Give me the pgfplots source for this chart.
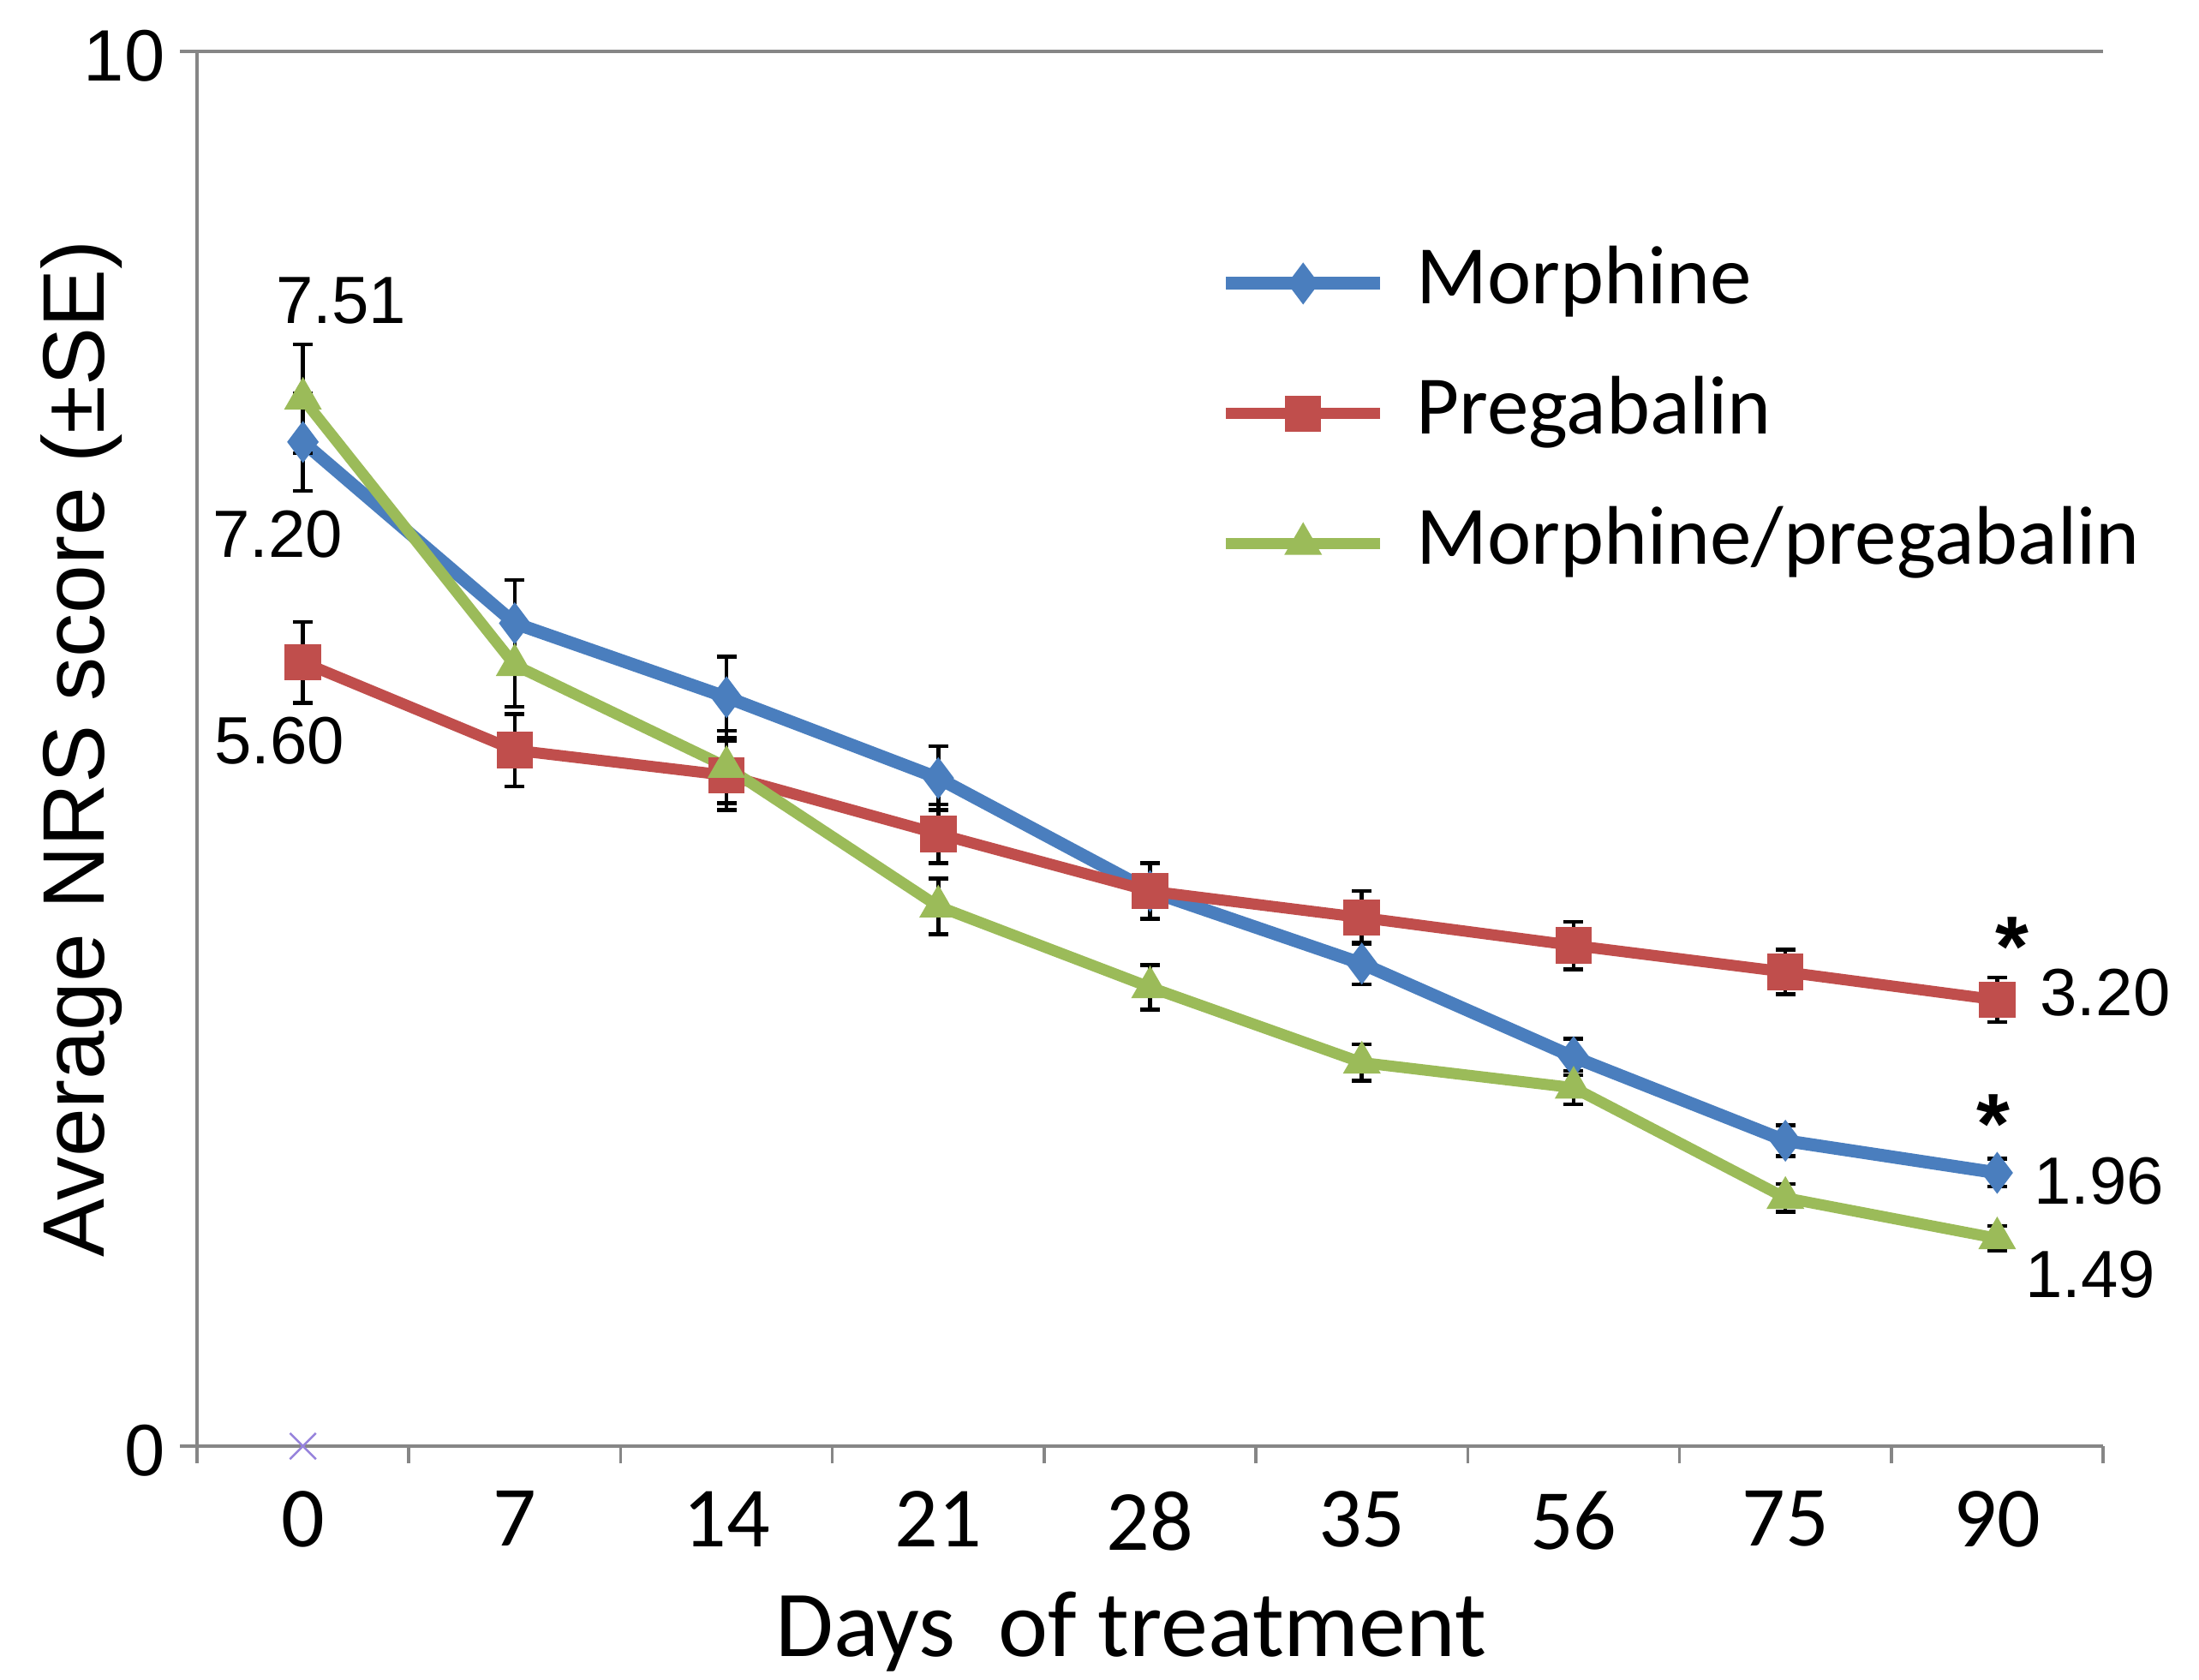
\documentclass[border=0pt]{standalone}
\usepackage{fontspec}
\setmainfont{Carlito}
\newfontfamily\arial{Liberation Sans}
\usepackage{pgfplots}
\usepackage{pgfplotstable}
\pgfplotsset{compat=1.18}

\definecolor{morph}{RGB}{74,126,190}
\definecolor{prega}{RGB}{192,78,76}
\definecolor{combo}{RGB}{155,187,89}
\definecolor{axisgray}{RGB}{134,134,134}

% x = category index (days 0,7,14,21,28,35,56,75,90), y = mean NRS, e = SE
\pgfplotstableread{
x y e
0 7.20 0.35
1 5.90 0.31
2 5.37 0.29
3 4.79 0.23
4 3.98 0.20
5 3.46 0.15
6 2.79 0.13
7 2.19 0.11
8 1.96 0.10
}\morphine
\pgfplotstableread{
x y e
0 5.62 0.29
1 4.99 0.26
2 4.81 0.25
3 4.39 0.21
4 3.98 0.20
5 3.79 0.19
6 3.59 0.17
7 3.40 0.16
8 3.20 0.16
}\pregabalin
\pgfplotstableread{
x y e
0 7.51 0.39
1 5.60 0.30
2 4.87 0.26
3 3.87 0.20
4 3.29 0.16
5 2.75 0.13
6 2.57 0.12
7 1.78 0.10
8 1.49 0.09
}\combo

\begin{document}
\begin{tikzpicture}
\begin{axis}[
    scale only axis,
    width=445pt, height=325.6pt,
    clip=false,
    xmin=-0.5, xmax=8.5,
    ymin=0, ymax=10,
    axis x line*=bottom,
    axis y line*=left,
    axis line style={-, draw=axisgray, line width=0.7pt},
    xtick={-0.5,0.5,1.5,2.5,3.5,4.5,5.5,6.5,7.5,8.5},
    x tick label as interval,
    xticklabels={0,7,14,21,28,35,56,75,90},
    ytick={0,10},
    ymajorgrids,
    grid style={draw=axisgray, line width=0.7pt},
    tick align=outside,
    major tick length=4pt,
    tick style={draw=axisgray, line width=0.7pt},
    /pgf/number format/assume math mode=true,
    xticklabel style={font=\fontsize{20}{24}\selectfont, yshift=-3pt},
    yticklabel style={font=\arial\fontsize{17}{20}\selectfont, yshift=-1pt},
    xlabel={Days\ \ of treatment},
    xlabel style={font=\fontsize{22}{26}\selectfont, at={(axis description cs:0.49,0)}, anchor=base, yshift=-49pt},
    ylabel={Average NRS score (±SE)},
    ylabel style={font=\arial\fontsize{20.4}{24}\selectfont, at={([xshift=-27pt]axis description cs:0,0.5)}, anchor=center},
    legend style={draw=none, fill=none, inner sep=0pt, outer sep=0pt,
        at={(0.5365,0.862)}, anchor=north west,
        font=\fontsize{19.4}{23}\selectfont,
        nodes={inner sep=0pt, text height=14pt, text depth=4.5pt},
        row sep=11.9pt, column sep=7pt},
    legend cell align=left,
    legend image code/.code={\draw[mark repeat=2,mark phase=2] plot coordinates {(0pt,0pt)(18pt,0pt)(36pt,0pt)};},
    every axis plot/.append style={
        error bars/y dir=both, error bars/y explicit,
        error bars/error bar style={black, line width=0.9pt, solid},
        error bars/error mark options={rotate=90, mark size=2.3pt, black, line width=0.9pt, solid}},
]
\addplot[morph, line width=3pt, mark=diamond*, mark size=4.5pt, mark options={fill=morph, draw=morph, line width=0.5pt}]
    table[x=x, y=y, y error=e] {\morphine};
\addlegendentry{Morphine}
\addplot[prega, line width=2.6pt, mark=square*, mark size=4pt, mark options={fill=prega, draw=prega, line width=0.5pt}]
    table[x=x, y=y, y error=e] {\pregabalin};
\addlegendentry{Pregabalin}
\addplot[combo, line width=2.6pt, mark=triangle*, mark size=4.6pt, mark options={fill=combo, draw=combo, line width=0.5pt}]
    table[x=x, y=y, y error=e] {\combo};
\addlegendentry{Morphine/pregabalin}
\addplot[only marks, mark=x, mark size=4.3pt, color={rgb,255:red,150;green,130;blue,220}, line width=0.5pt, forget plot,
    error bars/y dir=none] coordinates {(0,0)};

\begin{scope}[font=\arial\fontsize{15.6}{18}\selectfont]
\node at (axis cs:0.18,8.21) {7.51};
\node at (axis cs:-0.12,6.54) {7.20};
\node at (axis cs:-0.11,5.06) {5.60};
\node at (axis cs:8.51,3.25) {3.20};
\node at (axis cs:8.48,1.90) {1.96};
\node at (axis cs:8.44,1.23) {1.49};
\end{scope}
\node[font=\arial\bfseries\fontsize{20}{24}\selectfont] at (axis cs:8.07,3.58) {*};
\node[font=\arial\bfseries\fontsize{20}{24}\selectfont] at (axis cs:7.98,2.31) {*};

\coordinate (BL) at (rel axis cs:0,0);
\coordinate (TR) at (rel axis cs:1,1);
\end{axis}
\pgfresetboundingbox
\path[use as bounding box] ([shift={(-46pt,-54.4pt)}]BL) rectangle ([shift={(22.4pt,12pt)}]TR);
\end{tikzpicture}
\end{document}
